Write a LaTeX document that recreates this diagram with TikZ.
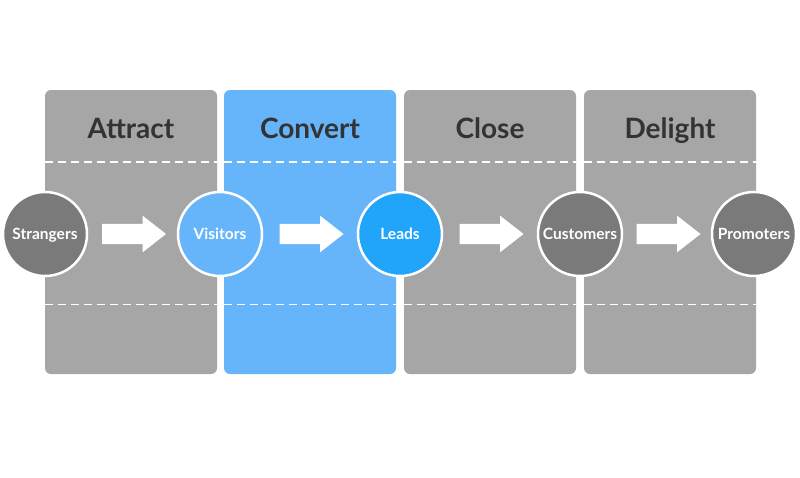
\documentclass[tikz,border=0pt]{standalone}
\usepackage{fontspec}
\setmainfont{Lato}
\usetikzlibrary{arrows.meta, positioning, shapes.arrows, calc}
\definecolor{cpanel}{HTML}{A6A6A6}
\definecolor{cblue}{HTML}{66B4FA}
\definecolor{clead}{HTML}{20A5FA}
\definecolor{cdark}{HTML}{7A7A7A}
\definecolor{ctext}{HTML}{333333}

\begin{document}
\begin{tikzpicture}[
  x=1pt, y=-1pt,
  panel/.style={fill=cpanel, rounded corners=6pt, inner sep=0pt,
                minimum width=172pt, minimum height=284pt},
  title/.style={anchor=base, font=\fontsize{28}{30}\selectfont\bfseries, text=ctext},
  dline/.style={draw=white, line width=1.4pt, dash pattern=on 8pt off 5pt},
  stage/.style={circle, fill=cdark, draw=white, line width=2.5pt,
                minimum size=84pt, inner sep=0pt, text height=11pt, text depth=0pt,
                font=\fontsize{15.5}{17}\selectfont\bfseries, text=white},
  flow/.style={single arrow, fill=white, inner xsep=0pt, inner ysep=10pt,
               minimum height=64pt, minimum width=36pt,
               single arrow head extend=8pt, single arrow tip angle=76},
]
\useasboundingbox[fill=white] (0,0) rectangle (800,477);
% panels
\node[panel] (att) at (131,232) {};
\node[panel, fill=cblue] (cvt) at (310,232) {};
\node[panel] (cls) at (490,232) {};
\node[panel] (dlt) at (670,232) {};
\foreach \p in {att,cvt,cls,dlt} {
  \draw[dline] ($(\p.north west)+(0,72)$) -- ($(\p.north east)+(0,72)$);
  \draw[dline] ($(\p.south west)+(0,-70)$) -- ($(\p.south east)+(0,-70)$);
}
% titles
\node[title] (tatt) at (131,138) {Attract};
\node[title] (tcvt) at (310,138) {Convert};
\node[title] (tcls) at (490,138) {Close};
\node[title] (tdlt) at (670,138) {Delight};
% stages
\node[stage] (str) at (45,234)  {Strangers};
\node[stage, fill=cblue] (vis) at (220,234) {Visitors};
\node[stage, fill=clead] (lds) at (400,234) {Leads};
\node[stage] (cus) at (580,234) {Customers};
\node[stage] (pro) at (754,234) {Promoters};
% arrows
\node[flow] (f1) at ($(str)!0.5!(vis)+(-5,0)$) {};
\node[flow] (f2) at ($(vis)!0.5!(lds)+(-5,0)$) {};
\node[flow] (f3) at ($(lds)!0.5!(cus)+(-5,0)$) {};
\node[flow] (f4) at ($(cus)!0.5!(pro)+(-5,0)$) {};
\end{tikzpicture}
\end{document}
